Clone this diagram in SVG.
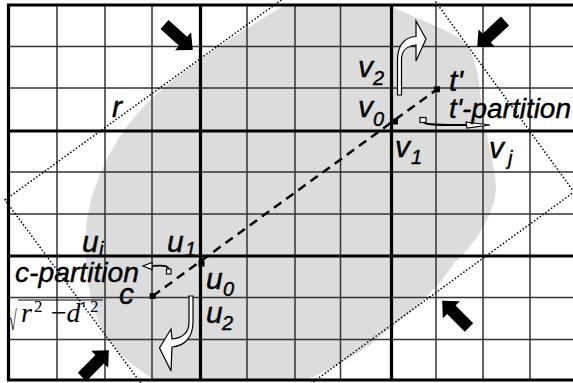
<svg xmlns="http://www.w3.org/2000/svg" xmlns:xlink="http://www.w3.org/1999/xlink" width="573" height="383" viewBox="0 0 573 383">
<style>
.thin{stroke:#333;stroke-width:1.5;fill:none}
.thick{stroke:#000;stroke-width:3.2;fill:none}
.dot{fill:none;stroke:#000;stroke-width:1.5;stroke-dasharray:1.5 2}
.dash{fill:none;stroke:#000;stroke-width:2.5;stroke-dasharray:9 6}
.lbl{font-family:"Liberation Sans",Arial,sans-serif;font-style:italic;font-size:30px;fill:#000;stroke:#000;stroke-width:0.4}
.sub{font-size:20px}
.part{font-size:27px}
.hollow{fill:#fff;stroke:#000;stroke-width:1.2;stroke-linejoin:miter}
.pt{fill:#000}
.math{font-family:"Liberation Serif","Times New Roman",serif;font-size:28px;fill:#000}
</style>
<defs>
<clipPath id="area"><rect x="0" y="0" width="573" height="381"/></clipPath>
<path id="barrow" d="M0,-6 L25,-6 L25,-12 L38,0 L25,12 L25,6 L0,6 Z" fill="#000"/>
</defs>
<rect width="573" height="383" fill="#fff"/>
<g id="region">
<path clip-path="url(#area)" fill="#dcdcdc" d="M285,5 L390,5 C405,15 440,25 462,40 C475,52 479,75 481,100 C484,130 494,160 496,185 C497,210 475,245 455,262 C430,300 400,320 370,345 C345,362 318,375 300,383 L160,383 C130,365 105,345 96,315 C85,285 82,235 90,205 C100,165 120,130 150,100 C185,68 230,38 285,5 Z"/>
</g>
<g id="grid">
<path class="thin" d="M57,5V380 M105,5V380 M152,5V380 M247,5V380 M295,5V380 M340.5,5V380 M436,5V380 M483,5V380 M530,5V380 M8.5,46.5H573 M8.5,88H573 M8.5,172H573 M8.5,214H573 M8.5,297.5H573 M8.5,339.5H573"/>
<path class="thick" d="M8.5,5V381.5 M200.5,5V380 M391.5,5V380 M7,5H573 M8.5,131H573 M8.5,256H573 M7,380H573"/>
</g>
<g id="range">
<polygon class="dot" points="5,200 381.5,-72.6 574,192 200.8,463.8"/>
</g>
<g id="connectors">
<line class="dash" x1="152.7" y1="296" x2="437" y2="89.3"/>
<path class="hollow" d="M397.5,95 L397.5,60 C397.5,46 404,37 416,36.5 L416,21 L426,39 L416,61 L416,45 C408,45.5 401.5,50 401.5,60 L401.5,95 Z"/>
<path class="hollow" d="M189,296 L189,322 C189,332 183,338 172,339 L171,329 L159.5,348 L171,371 L172,347 C185,346 193,337 193,322 L193,296 Z"/>
<g id="tpart-arrow">
<path d="M424,122.5 C426,125 440,125 467,125" fill="none" stroke="#000" stroke-width="2"/>
<rect x="420" y="117.5" width="6" height="5" class="hollow" stroke-width="1"/>
<polygon points="466,122 490,125 467,128" class="hollow" stroke-width="1"/>
</g>
<g id="cpart-arrow">
<path d="M169,269.5 C168,265 162,265.5 151,266" fill="none" stroke="#000" stroke-width="1.8"/>
<rect x="166.5" y="269" width="4.5" height="5" class="hollow" stroke-width="1"/>
<polygon points="152,262.5 143,266 152,269.5" class="hollow" stroke-width="1"/>
</g>
<use xlink:href="#barrow" transform="translate(164.5,24.5) rotate(42)"/>
<use xlink:href="#barrow" transform="translate(505,21) rotate(137)"/>
<use xlink:href="#barrow" transform="translate(469,327.5) rotate(-135)"/>
<use xlink:href="#barrow" transform="translate(82,377) rotate(-45)"/>
</g>
<g id="c"><rect class="pt" x="149.7" y="293" width="6" height="6"/><text class="lbl" x="119" y="304">c</text></g>
<g id="u0"><rect class="pt" x="198.5" y="260.5" width="6" height="6"/><text class="lbl" x="206" y="289">u<tspan class="sub" x="223" y="296">0</tspan></text></g>
<g id="v0"><rect class="pt" x="392" y="118.5" width="6" height="6"/><text class="lbl" x="358" y="117">v<tspan class="sub" x="373" y="126">0</tspan></text></g>
<g id="tprime"><rect class="pt" x="434" y="86.3" width="6" height="6"/><text class="lbl" x="449" y="91" font-size="27">t'</text></g>
<g id="labels">
<text class="lbl" x="112" y="117">r</text>
<text class="lbl" x="358" y="77">v<tspan class="sub" x="373" y="85">2</tspan></text>
<text class="lbl" x="395" y="157">v<tspan class="sub" x="411" y="164">1</tspan></text>
<text class="lbl" x="489" y="158">v<tspan class="sub" x="508" y="165">j</tspan></text>
<text class="lbl" x="82" y="252">u<tspan class="sub" x="99" y="256">i</tspan></text>
<text class="lbl" x="167" y="252">u<tspan class="sub" x="185" y="256">1</tspan></text>
<text class="lbl" x="206" y="323">u<tspan class="sub" x="222" y="330">2</tspan></text>
<text class="lbl part" x="449" y="118" textLength="122" lengthAdjust="spacingAndGlyphs">t'-partition</text>
<text class="lbl part" x="15" y="282" textLength="124" lengthAdjust="spacingAndGlyphs">c-partition</text>
</g>
<g id="formula">
<text class="math" x="9" y="330" font-size="40" transform="translate(9,0) scale(0.5,1) translate(-9,0)">√</text>
<line x1="18" y1="300" x2="103" y2="300" stroke="#000" stroke-width="1.2"/>
<text class="math" y="322"><tspan x="21" font-style="italic">r</tspan><tspan x="34" y="312" font-size="17">2</tspan><tspan x="51" y="322">−</tspan><tspan x="66.5" font-style="italic">d</tspan><tspan x="82" y="315" font-size="19">'</tspan><tspan x="90" y="312" font-size="17">2</tspan></text>
</g>
</svg>
